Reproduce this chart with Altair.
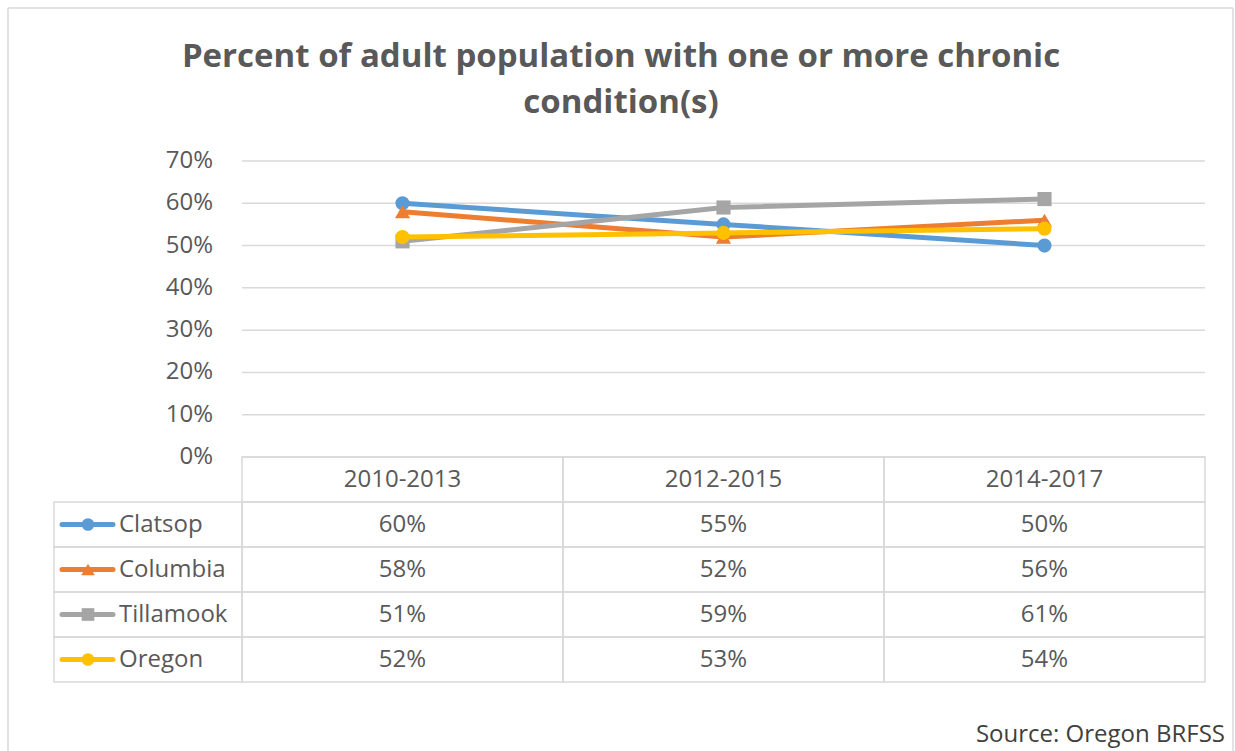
import altair as alt
import pandas as pd

# ---- data -----------------------------------------------------------------
periods = ["2010-2013", "2012-2015", "2014-2017"]
series = ["Clatsop", "Columbia", "Tillamook", "Oregon"]
clatsop = [60, 55, 50]
columbia = [58, 52, 56]
tillamook = [51, 59, 61]
oregon = [52, 53, 54]
y_ticks = [0, 10, 20, 30, 40, 50, 60, 70]

colors = ["#5B9BD5", "#ED7D31", "#A5A5A5", "#FFC000"]
shapes = ["circle", "triangle-up", "square", "circle"]
marker_sizes = [200, 230, 200, 200]
title_lines = ["Percent of adult population with one or more chronic", "condition(s)"]
source_note = "Source: Oregon BRFSS"

values = dict(zip(series, [clatsop, columbia, tillamook, oregon]))

# ---- layout (pixels inside the view) --------------------------------------
W, H = 1225, 743
FONT = "Open Sans"
TXT = "#595959"
GRID = "#D9D9D9"
FS = 24
X_RANGE = [234, 1197]          # plot columns
Y_RANGE = [449, 153]           # 0% .. 70%
ROW_RANGE = [449, 674]         # data table rows (header + series)

long = pd.DataFrame(
    [{"series": s, "period": p, "value": v / 100, "label": f"{v}%"}
     for s in series for p, v in zip(periods, values[s])]
)
ticks = pd.DataFrame({"tick": [t / 100 for t in y_ticks],
                      "label": [f"{t}%" for t in y_ticks]})
rows = [""] + series
cells = pd.DataFrame([{"period": p, "row": r} for r in rows for p in periods])
legend_rows = pd.DataFrame({"row": series})
header = pd.DataFrame({"period": periods, "row": ""})
base_one = pd.DataFrame({"k": [0]})


def xs():
    return alt.X("period:N", axis=None,
                 scale=alt.Scale(type="band", domain=periods, range=X_RANGE,
                                 paddingInner=0, paddingOuter=0))


def ys(field="value:Q"):
    return alt.Y(field, axis=None,
                 scale=alt.Scale(domain=[0, 0.7], range=Y_RANGE, nice=False, zero=False))


def rows_y():
    return alt.Y("row:N", axis=None,
                 scale=alt.Scale(type="band", domain=rows, range=ROW_RANGE,
                                 paddingInner=0, paddingOuter=0))


layers = []

# outer frame (left, top, right)
frame = alt.Chart(base_one)
layers += [
    frame.mark_rule(color=GRID, strokeWidth=1.5).encode(
        x=alt.value(0), y=alt.value(0), y2=alt.value(H + 20)),
    frame.mark_rule(color=GRID, strokeWidth=1.5).encode(
        x=alt.value(0), x2=alt.value(W), y=alt.value(0)),
    frame.mark_rule(color=GRID, strokeWidth=1.5).encode(
        x=alt.value(W), y=alt.value(0), y2=alt.value(H + 20)),
]

# title
layers.append(
    alt.Chart(pd.DataFrame({"t": title_lines, "yy": [59, 105]})).mark_text(
        font=FONT, fontSize=33, fontWeight="bold", color=TXT, align="center",
        baseline="alphabetic").encode(
        text="t:N", x=alt.value(613), y=alt.Y("yy:Q", scale=None, axis=None))
)

# gridlines and y tick labels
layers.append(
    alt.Chart(ticks).mark_rule(color=GRID, strokeWidth=1.5).encode(
        y=ys("tick:Q"), x=alt.value(X_RANGE[0]), x2=alt.value(X_RANGE[1]))
)
layers.append(
    alt.Chart(ticks).mark_text(font=FONT, fontSize=FS, color=TXT, align="right",
                               baseline="middle").encode(
        y=ys("tick:Q"), x=alt.value(205), text="label:N")
)

# data table cells
layers.append(
    alt.Chart(cells).mark_rect(fill="white", fillOpacity=0, stroke=GRID,
                               strokeWidth=1.5).encode(x=xs(), y=rows_y())
)
layers.append(
    alt.Chart(legend_rows).mark_rect(fill="white", fillOpacity=0, stroke=GRID,
                                     strokeWidth=1.5).encode(
        x=alt.value(46), x2=alt.value(X_RANGE[0]), y=rows_y())
)
layers.append(
    alt.Chart(header).mark_text(font=FONT, fontSize=FS, color=TXT,
                                baseline="middle").encode(
        x=xs(), y=rows_y(), text="period:N")
)
layers.append(
    alt.Chart(long.rename(columns={"series": "row"})).mark_text(
        font=FONT, fontSize=FS, color=TXT, baseline="middle").encode(
        x=xs(), y=rows_y(), text="label:N")
)

# series: lines, markers and legend keys
for s, c, shp, sz in zip(series, colors, shapes, marker_sizes):
    d = long[long["series"] == s]
    layers.append(
        alt.Chart(d).mark_line(color=c, strokeWidth=5, strokeCap="round",
                               strokeJoin="round").encode(x=xs(), y=ys())
    )
    layers.append(
        alt.Chart(d).mark_point(filled=True, opacity=1, color=c, shape=shp,
                                size=sz).encode(x=xs(), y=ys())
    )
    key = alt.Chart(pd.DataFrame({"row": [s]}))
    layers.append(
        key.mark_rule(color=c, strokeWidth=5, strokeCap="round").encode(
            x=alt.value(54), x2=alt.value(105), y=rows_y())
    )
    layers.append(
        key.mark_point(filled=True, opacity=1, color=c, shape=shp,
                       size=sz * 0.8).encode(x=alt.value(80), y=rows_y())
    )
    layers.append(
        key.mark_text(font=FONT, fontSize=FS, color=TXT, align="left",
                      baseline="middle").encode(
            x=alt.value(111), y=rows_y(), text="row:N")
    )

# source note
layers.append(
    alt.Chart(pd.DataFrame({"t": [source_note]})).mark_text(
        font=FONT, fontSize=FS, color="#404040", align="right",
        baseline="alphabetic").encode(text="t:N", x=alt.value(1217), y=alt.value(734))
)

chart = alt.layer(*layers).resolve_scale(
    x="independent", y="independent"
).properties(
    width=W, height=H,
    autosize=alt.AutoSizeParams(type="none"),
    padding={"left": 8, "top": 8, "right": 2, "bottom": 0},
    background="white",
).configure_view(stroke=None)

chart.save("out.html", embed_options={"renderer": "svg", "actions": False})
